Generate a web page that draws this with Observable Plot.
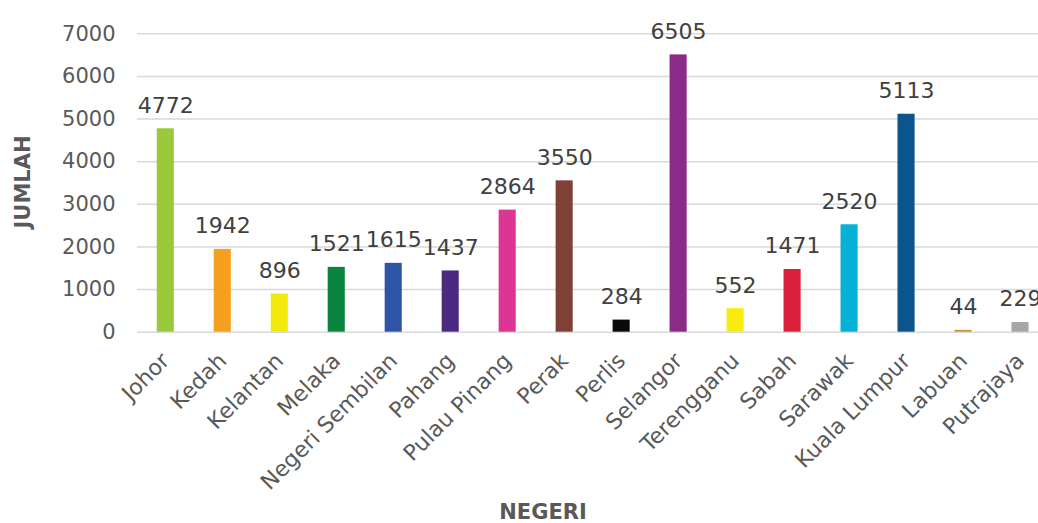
<!DOCTYPE html>
<html>
<head>
<meta charset="utf-8">
<script src="https://cdn.jsdelivr.net/npm/d3@7"></script>
<script src="https://cdn.jsdelivr.net/npm/@observablehq/plot@0.6"></script>
<style>
  html, body { margin: 0; padding: 0; background: #fff; }
  #chart svg { display: block; }
</style>
</head>
<body>
<div id="chart"></div>
<script>
const states = ["Johor", "Kedah", "Kelantan", "Melaka", "Negeri Sembilan", "Pahang", "Pulau Pinang", "Perak", "Perlis", "Selangor", "Terengganu", "Sabah", "Sarawak", "Kuala Lumpur", "Labuan", "Putrajaya"];
const counts = [4772, 1942, 896, 1521, 1615, 1437, 2864, 3550, 284, 6505, 552, 1471, 2520, 5113, 44, 229];
const colors = ["#9aca3c", "#f6a01f", "#f2e90f", "#0b8440", "#2e55a5", "#4b2a82", "#dc3596", "#7f4136", "#0a0a0a", "#8a2b88", "#f7ec0d", "#d91f3a", "#05b2d6", "#0b548c", "#c4982e", "#a6a6a6"];
const yTicks = [0, 1000, 2000, 3000, 4000, 5000, 6000, 7000];
const xTitle = "NEGERI";
const yTitle = "JUMLAH";

const data = states.map((s, i) => ({state: s, value: counts[i], color: colors[i]}));

const font = "DejaVu Sans, Verdana, sans-serif";

const chart = Plot.plot({
  width: 1038,
  height: 523,
  marginLeft: 137,
  marginRight: 0,
  marginTop: 33,
  marginBottom: 191,
  style: {fontFamily: font, background: "#fff"},
  x: {domain: states, range: [136.8, 1048.5], paddingInner: 0.7, paddingOuter: 0.35, round: false, axis: null},
  y: {domain: [0, 7000], range: [331.7, 33.3], axis: null},
  marks: [
    Plot.ruleY(yTicks, {stroke: "#d9d9d9", strokeWidth: 1.5}),
    Plot.barY(data, {x: "state", y: "value", fill: "color"}),
    Plot.text(yTicks, {y: d => d, text: d => String(d), frameAnchor: "left", textAnchor: "end", dx: -22, fontSize: 21, fill: "#595959"}),
    Plot.text(data, {x: "state", y: "value", text: d => String(d.value), lineAnchor: "bottom", dy: -16, fontSize: 22, fill: "#404040"}),
    Plot.text(data, {x: "state", y: 0, text: "state", rotate: -45, textAnchor: "end", dx: 0, dy: 25, fontSize: 22, fill: "#595959"})
  ]
});

document.getElementById("chart").appendChild(chart);

const svg = d3.select(chart);
svg.append("text")
  .attr("x", 543).attr("y", 519)
  .attr("text-anchor", "middle")
  .attr("font-family", font).attr("font-size", 21).attr("font-weight", "bold")
  .attr("fill", "#595959")
  .text(xTitle);
svg.append("text")
  .attr("transform", "translate(30,182) rotate(-90)")
  .attr("text-anchor", "middle")
  .attr("font-family", font).attr("font-size", 21).attr("font-weight", "bold")
  .attr("fill", "#595959")
  .text(yTitle);
</script>
</body>
</html>
